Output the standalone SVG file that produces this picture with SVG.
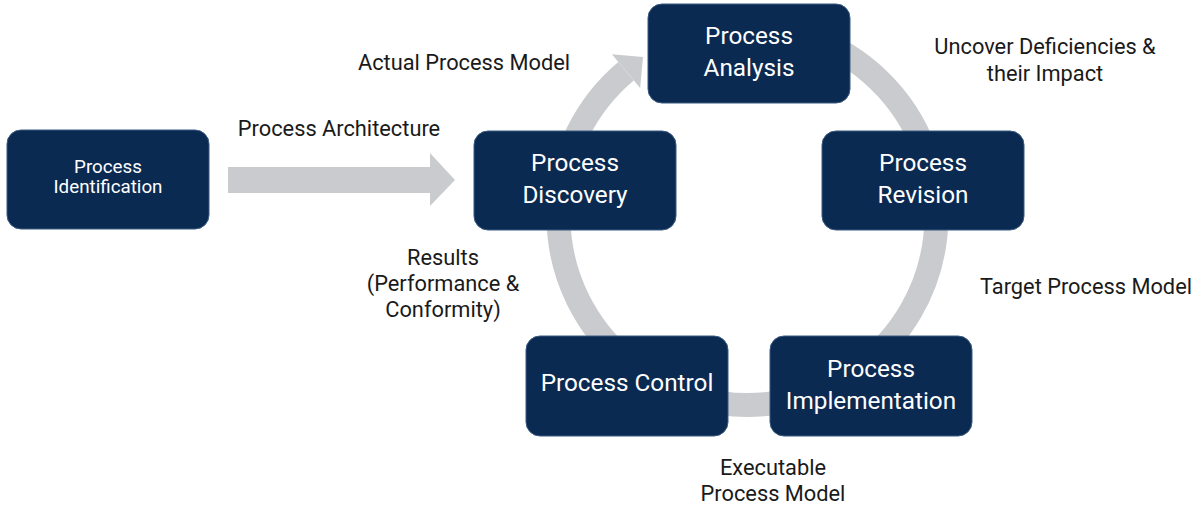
<svg xmlns="http://www.w3.org/2000/svg" width="1194" height="508" viewBox="0 0 1194 508">
  <style>
    .box { fill: #0b2a52; stroke: #3b5a80; stroke-width: 1; }
    .bt { fill: #ffffff; font-family: Roboto, "Liberation Sans", sans-serif; font-size: 24.3px; text-anchor: middle; }
    .bt-s { font-size: 18.8px; }
    .lbl { fill: #1a1a1a; font-family: Roboto, "Liberation Sans", sans-serif; font-size: 21.8px; text-anchor: middle; }
    .flow { fill: #c9cbce; }
    .ring { fill: none; stroke: #c9cbce; stroke-width: 24; }
  </style>

  <!-- connectors: straight arrow into the cycle and the improvement cycle ring -->
  <g id="connectors">
    <polygon class="flow" points="228,167 430,167 430,153 455,180 430,206 430,193 228,193"/>
    <path class="ring" d="M 812.1 38.4 A 189 189 0 1 1 626 71.2"/>
    <polygon class="flow" points="611.9,54.3 640.1,88.1 643,57"/>
  </g>

  <g id="process-identification">
    <rect class="box" x="7" y="130" width="202" height="99" rx="14"/>
    <text class="bt bt-s" x="108" y="173">Process</text>
    <text class="bt bt-s" x="108" y="193">Identification</text>
  </g>

  <g id="process-discovery">
    <rect class="box" x="474" y="131" width="202" height="99" rx="14"/>
    <text class="bt" x="575" y="171">Process</text>
    <text class="bt" x="575" y="203">Discovery</text>
  </g>

  <g id="process-analysis">
    <rect class="box" x="648" y="4" width="202" height="99" rx="14"/>
    <text class="bt" x="749" y="44">Process</text>
    <text class="bt" x="749" y="76">Analysis</text>
  </g>

  <g id="process-revision">
    <rect class="box" x="822" y="131" width="202" height="99" rx="14"/>
    <text class="bt" x="923" y="171">Process</text>
    <text class="bt" x="923" y="203">Revision</text>
  </g>

  <g id="process-implementation">
    <rect class="box" x="770" y="336" width="202" height="100" rx="14"/>
    <text class="bt" x="871" y="377">Process</text>
    <text class="bt" x="871" y="409">Implementation</text>
  </g>

  <g id="process-control">
    <rect class="box" x="526" y="336" width="202" height="100" rx="14"/>
    <text class="bt" x="627" y="391">Process Control</text>
  </g>

  <g id="labels">
    <text class="lbl" x="339" y="136">Process Architecture</text>
    <text class="lbl" x="464" y="70">Actual Process Model</text>
    <text class="lbl" x="1045" y="54">Uncover Deficiencies &amp;</text>
    <text class="lbl" x="1045" y="81">their Impact</text>
    <text class="lbl" x="1086" y="294">Target Process Model</text>
    <text class="lbl" x="773" y="475">Executable</text>
    <text class="lbl" x="773" y="501">Process Model</text>
    <text class="lbl" x="443" y="265">Results</text>
    <text class="lbl" x="443" y="291">(Performance &amp;</text>
    <text class="lbl" x="443" y="317">Conformity)</text>
  </g>
</svg>
